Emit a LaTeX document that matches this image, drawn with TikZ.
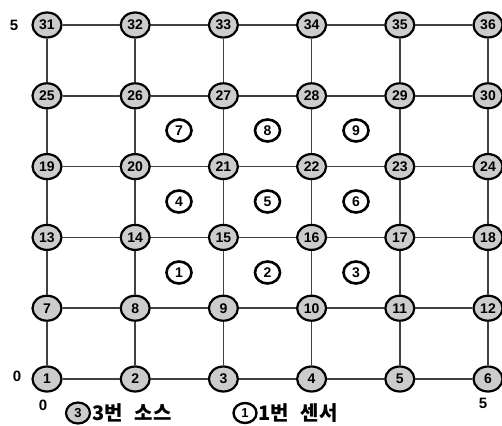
\documentclass[tikz,border=0pt]{standalone}
\usepackage{fontspec}
\setmainfont{Liberation Sans}
\newfontfamily\kr{Noto Sans CJK KR}
\usetikzlibrary{shapes.geometric}
\tikzset{
  gnode/.style={ellipse, draw=black, line width=2.2pt, fill=black!20, inner sep=0pt,
    minimum width=29pt, minimum height=25pt, font=\fontsize{14}{14}\selectfont\bfseries},
  snode/.style={ellipse, draw=black, line width=2.6pt, fill=white, inner sep=0pt,
    minimum width=25pt, minimum height=22pt, font=\fontsize{14}{14}\selectfont\bfseries},
  lgnode/.style={ellipse, draw=black, line width=2.2pt, fill=black!20, inner sep=0pt,
    minimum width=24pt, minimum height=21pt, font=\fontsize{13}{13}\selectfont\bfseries},
  lsnode/.style={ellipse, draw=black, line width=2.4pt, fill=white, inner sep=0pt,
    minimum width=23pt, minimum height=20pt, font=\fontsize{13}{13}\selectfont\bfseries},
  edge/.style={draw=black!75, line width=1.6pt},
  axis/.style={font=\fontsize{15}{15}\selectfont\bfseries},
  legtxt/.style={font=\kr\fontsize{20}{20}\selectfont\bfseries, anchor=west, inner sep=0pt}
}
\begin{document}
\begin{tikzpicture}[x=1pt,y=-1pt]
\useasboundingbox[fill=white] (0,0) rectangle (502,425);
% grid nodes
\foreach \j in {0,...,5}{
  \foreach \i in {0,...,5}{
    \pgfmathtruncatemacro{\n}{6*\j+\i+1}
    \node[gnode] (g\n) at ({47+88.2*\i},{379-70.8*\j}) {\n};
  }
}
% edges
\foreach \j in {0,...,5}{
  \foreach \i in {0,...,4}{
    \pgfmathtruncatemacro{\a}{6*\j+\i+1}
    \pgfmathtruncatemacro{\b}{6*\j+\i+2}
    \draw[edge] (g\a) -- (g\b);
  }
}
\foreach \j in {0,...,4}{
  \foreach \i in {0,...,5}{
    \pgfmathtruncatemacro{\a}{6*\j+\i+1}
    \pgfmathtruncatemacro{\b}{6*\j+\i+7}
    \draw[edge] (g\a) -- (g\b);
  }
}
% sensors
\foreach \j in {0,1,2}{
  \foreach \i in {0,1,2}{
    \pgfmathtruncatemacro{\n}{3*\j+\i+1}
    \node[snode] (s\n) at ({179+88.5*\i},{272.5-71*\j}) {\n};
  }
}
% axis labels
\node[axis] (y5) at (14,25) {5};
\node[axis] (y0) at (17,376) {0};
\node[axis] (x0) at (43,405) {0};
\node[axis] (x5) at (483,403) {5};
% legend
\node[lgnode] (l3) at (78,413) {3};
\node[legtxt] (l3t) at (92,413) {3번\hspace{0.6em}소스};
\node[lsnode] (l1) at (245,413) {1};
\node[legtxt] (l1t) at (258,413) {1번\hspace{0.6em}센서};
\end{tikzpicture}
\end{document}
